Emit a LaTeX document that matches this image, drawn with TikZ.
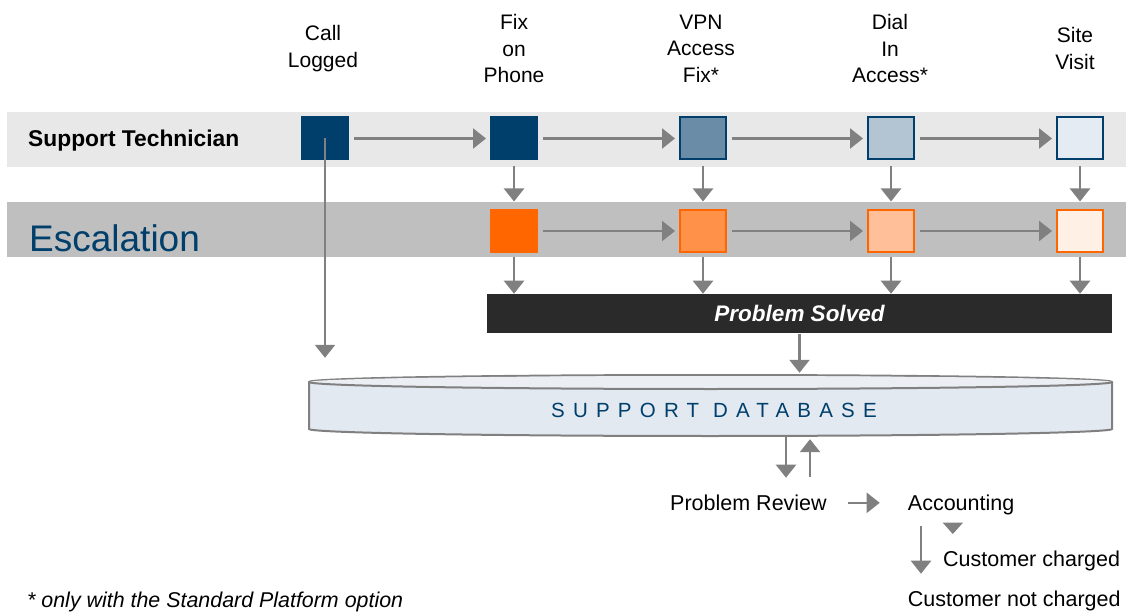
\documentclass[tikz,border=0pt]{standalone}
\usepackage{fontspec}
\setmainfont{Liberation Sans}
\usetikzlibrary{arrows.meta, calc, positioning}

\definecolor{techblue}{HTML}{003E6B}
\definecolor{vpnblue}{HTML}{6A8CA7}
\definecolor{dialblue}{HTML}{B3C5D2}
\definecolor{siteblue}{HTML}{E4EBF2}
\definecolor{escorange}{HTML}{FF6600}
\definecolor{vpnorange}{HTML}{FF9148}
\definecolor{dialorange}{HTML}{FFBF99}
\definecolor{siteorange}{HTML}{FFF0E6}
\definecolor{laneone}{HTML}{E8E8E8}
\definecolor{lanetwo}{HTML}{BFBFBF}
\definecolor{arrowgray}{HTML}{808080}
\definecolor{solvedgray}{HTML}{2A2A2A}
\definecolor{dbbody}{HTML}{E2E9F0}
\definecolor{dbtop}{HTML}{EBEFF4}

\begin{document}
\begin{tikzpicture}[x=1pt, y=1pt,
    flow/.style={draw=arrowgray, line width=2.4pt, -{Triangle[length=13pt, width=20pt]}},
    stepbox/.style={minimum width=46pt, minimum height=42pt, inner sep=0pt, line width=2pt},
    techbox/.style={stepbox, draw=techblue},
    escbox/.style={stepbox, draw=escorange},
    head/.style={align=center, inner sep=0pt, font=\fontsize{21}{26.5}\selectfont},
    lbl/.style={inner sep=0pt, font=\fontsize{21.5}{26.5}\selectfont}]

    \useasboundingbox (0,0) rectangle (1126,611);

    % Lanes
    \fill[laneone] (7,444.3) rectangle (1126,499.3);
    \fill[lanetwo] (7,354.3) rectangle (1126,409);
    \node[lbl, anchor=base west, font=\fontsize{22.8}{26.5}\selectfont\bfseries] (tech) at (28,464.5) {Support Technician};
    \node[lbl, anchor=base west, text=techblue, font=\fontsize{37}{40}\selectfont] (esc) at (29,359) {Escalation};

    % Column heads
    \node[head] (hCall) at (323,562.5) {Call\\Logged};
    \node[head] (hFix) at (514,562.5) {Fix\\on\\Phone};
    \node[head] (hVpn) at (701,562.5) {VPN\\Access\\Fix*};
    \node[head] (hDial) at (890,562.5) {Dial\\In\\Access*};
    \node[head] (hSite) at (1075,562.5) {Site\\Visit};

    % Technician steps
    \node[techbox, fill=techblue] (callST) at (325,472.5) {};
    \node[techbox, fill=techblue] (fixST) at (514,472.5) {};
    \node[techbox, fill=vpnblue] (vpnST) at (703,472.5) {};
    \node[techbox, fill=dialblue] (dialST) at (891,472.5) {};
    \node[techbox, fill=siteblue] (siteST) at (1080,472.5) {};

    % Escalation steps
    \node[escbox, fill=escorange] (fixES) at (514,380) {};
    \node[escbox, fill=vpnorange] (vpnES) at (703,380) {};
    \node[escbox, fill=dialorange] (dialES) at (891,380) {};
    \node[escbox, fill=siteorange] (siteES) at (1080,380) {};

    % Problem solved bar
    \node[fill=solvedgray, minimum width=625pt, minimum height=38.7pt, inner sep=0pt,
          text=white, font=\fontsize{22.5}{26}\selectfont\bfseries\itshape] (solved) at (799.5,297.7) {Problem Solved};

    % Database drum
    \filldraw[draw=arrowgray, fill=dbbody, line width=2pt]
        (309,229) -- (309,182) arc[start angle=180, end angle=360, x radius=401.5pt, y radius=7pt]
        -- (1112,229) arc[start angle=0, end angle=180, x radius=401.5pt, y radius=7pt] -- cycle;
    \fill[dbtop] (710.5,229) ellipse[x radius=400.5pt, y radius=6pt];
    \draw[arrowgray, line width=2pt] (309,229) arc[start angle=180, end angle=360, x radius=401.5pt, y radius=7pt];
    \node[minimum width=803pt, minimum height=61pt, inner sep=0pt, text height=23.5pt, text=techblue,
          font=\fontsize{20.5}{24}\selectfont\addfontfeature{LetterSpace=40}] (db) at (714,205.5) {SUPPORT DATABASE};

    % Flow along the lanes
    \draw[flow, shorten <=5pt, shorten >=4pt] (callST) -- (fixST);
    \draw[flow, shorten <=5pt, shorten >=4pt] (fixST) -- (vpnST);
    \draw[flow, shorten <=5pt, shorten >=4pt] (vpnST) -- (dialST);
    \draw[flow, shorten <=5pt, shorten >=4pt] (dialST) -- (siteST);
    \draw[flow, shorten <=5pt, shorten >=4pt] (fixES) -- (vpnES);
    \draw[flow, shorten <=5pt, shorten >=4pt] (vpnES) -- (dialES);
    \draw[flow, shorten <=5pt, shorten >=4pt] (dialES) -- (siteES);

    % Escalate
    \draw[flow, shorten <=6pt, shorten >=7.5pt] (fixST) -- (fixES);
    \draw[flow, shorten <=6pt, shorten >=7.5pt] (vpnST) -- (vpnES);
    \draw[flow, shorten <=6pt, shorten >=7.5pt] (dialST) -- (dialES);
    \draw[flow, shorten <=6pt, shorten >=7.5pt] (siteST) -- (siteES);

    % Solved
    \draw[flow, shorten <=4pt] (fixES) -- (fixES |- solved.north);
    \draw[flow, shorten <=4pt] (vpnES) -- (vpnES |- solved.north);
    \draw[flow, shorten <=4pt] (dialES) -- (dialES |- solved.north);
    \draw[flow, shorten <=4pt] (siteES) -- (siteES |- solved.north);

    % Into the database
    \draw[flow, shorten <=1pt, shorten >=2pt] (solved.south) -- (solved.south |- db.north);
    \draw[flow, shorten >=17pt] (callST.center) -- (callST.center |- db.north);

    % Review and accounting
    \node[lbl, anchor=base] (review) at (748.5,100.5) {Problem Review};
    \node[lbl, anchor=base west] (acct) at (907.7,100.5) {Accounting};
    \node[lbl, anchor=base west] (charged) at (943,44.5) {Customer charged};
    \node[lbl, anchor=base west] (notcharged) at (907.7,4.5) {Customer not charged};
    \node[lbl, anchor=base west, font=\fontsize{21.4}{26.5}\selectfont\itshape] (note) at (27,4) {* only with the Standard Platform option};

    \coordinate (dbOut) at ($(db.south)+(72,0)$);
    \coordinate (dbIn) at ($(db.south)+(96,0)$);
    \draw[flow, shorten <=1pt, shorten >=17pt] (dbOut) -- (dbOut |- review.north);
    \draw[flow, shorten <=18pt, shorten >=3pt] (dbIn |- review.north) -- (dbIn);
    \draw[flow, shorten <=21pt, shorten >=28pt] (review.east) -- (review.east -| acct.west);
    \fill[arrowgray] (942.7,88.3) -- (963,88.3) -- (952.8,77) -- cycle;
    \coordinate (chargeFork) at (921,85);
    \draw[flow, shorten >=17pt] (chargeFork) -- (chargeFork |- notcharged.north);

\end{tikzpicture}
\end{document}
